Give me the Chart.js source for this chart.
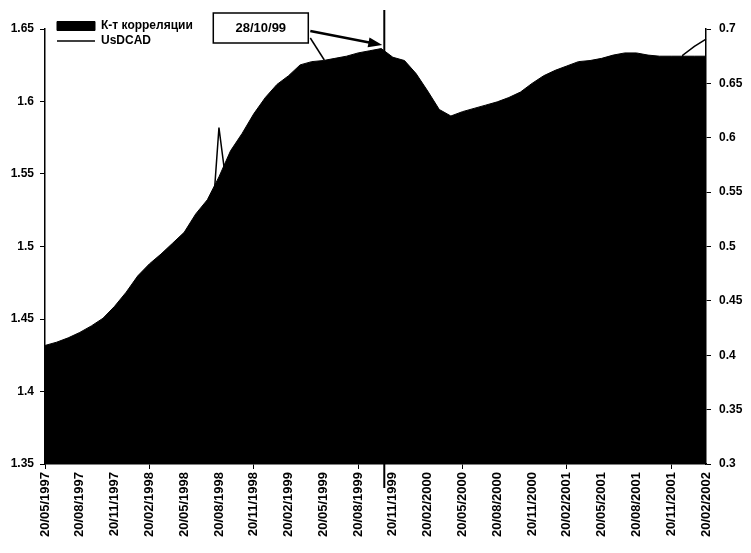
<!DOCTYPE html>
<html>
<head>
<meta charset="utf-8">
<script src="https://cdn.jsdelivr.net/npm/chart.js@4.4.1/dist/chart.umd.min.js"></script>
<style>
  body { margin: 0; background: #fff; }
  #chart { display: block; }
</style>
</head>
<body>
<canvas id="chart" width="751" height="553"></canvas>
<script>
// monthly dates, 20th of each month
const dates = [
  '20/05/1997', '20/06/1997', '20/07/1997', '20/08/1997', '20/09/1997', '20/10/1997', '20/11/1997', '20/12/1997',
  '20/01/1998', '20/02/1998', '20/03/1998', '20/04/1998', '20/05/1998', '20/06/1998', '20/07/1998', '20/08/1998',
  '20/09/1998', '20/10/1998', '20/11/1998', '20/12/1998',
  '20/01/1999', '20/02/1999', '20/03/1999', '20/04/1999', '20/05/1999', '20/06/1999', '20/07/1999', '20/08/1999',
  '20/09/1999', '20/10/1999', '20/11/1999', '20/12/1999',
  '20/01/2000', '20/02/2000', '20/03/2000', '20/04/2000', '20/05/2000', '20/06/2000', '20/07/2000', '20/08/2000',
  '20/09/2000', '20/10/2000', '20/11/2000', '20/12/2000',
  '20/01/2001', '20/02/2001', '20/03/2001', '20/04/2001', '20/05/2001', '20/06/2001', '20/07/2001', '20/08/2001',
  '20/09/2001', '20/10/2001', '20/11/2001', '20/12/2001',
  '20/01/2002', '20/02/2002'
];

// К-т корреляции (правая шкала)
const corrValues = [
  0.409, 0.412, 0.416, 0.421, 0.427, 0.434, 0.445, 0.458, 0.473, 0.484,
  0.493, 0.503, 0.513, 0.530, 0.543, 0.564, 0.588, 0.604, 0.622, 0.637,
  0.649, 0.657, 0.667, 0.670, 0.671, 0.673, 0.675, 0.678, 0.680, 0.682,
  0.674, 0.671, 0.659, 0.643, 0.626, 0.620, 0.624, 0.627, 0.630, 0.633,
  0.637, 0.642, 0.650, 0.657, 0.662, 0.666, 0.670, 0.671, 0.673, 0.676,
  0.678, 0.678, 0.676, 0.675, 0.675, 0.675, 0.675, 0.675
];

// UsDCAD (левая шкала)
const usdcadValues = [
  1.385, 1.39, 1.38, 1.39, 1.385, 1.39, 1.41, 1.43, 1.44, 1.43,
  1.42, 1.43, 1.45, 1.47, 1.47, 1.582, 1.52, 1.54, 1.54, 1.54,
  1.52, 1.50, 1.51, 1.47, 1.46, 1.47, 1.50, 1.49, 1.47, 1.48,
  1.47, 1.47, 1.45, 1.45, 1.46, 1.47, 1.48, 1.48, 1.48, 1.48,
  1.50, 1.51, 1.54, 1.52, 1.50, 1.54, 1.57, 1.54, 1.55, 1.52,
  1.54, 1.55, 1.58, 1.58, 1.59, 1.632, 1.638, 1.643
];

const markerText = '28/10/99';
const markerMonth = '20/10/1999';
const markerDay = 28;

const fontFamily = '"Liberation Sans", Arial, sans-serif';
Chart.defaults.font.family = fontFamily;
Chart.defaults.color = '#000';

// подпись 28/10/99 со стрелкой и вертикальной линией
const markerPlugin = {
  id: 'marker',
  afterDraw(chart) {
    const { ctx, chartArea, scales } = chart;
    const idx = dates.indexOf(markerMonth) + (markerDay - 20) / 31;
    const x = scales.x.getPixelForValue(idx);
    const top = chartArea.top;
    ctx.save();
    ctx.strokeStyle = '#000';
    ctx.fillStyle = '#000';

    ctx.lineWidth = 2;
    ctx.beginPath();
    ctx.moveTo(x, top - 19);
    ctx.lineTo(x, chartArea.bottom + 24);
    ctx.stroke();

    const bw = 95, bh = 30;
    const bx = x - 171, by = top - 16;
    ctx.fillStyle = '#fff';
    ctx.fillRect(bx, by, bw, bh);
    ctx.lineWidth = 1.5;
    ctx.strokeRect(bx, by, bw, bh);
    ctx.fillStyle = '#000';
    ctx.font = 'bold 13px ' + fontFamily;
    ctx.textAlign = 'center';
    ctx.textBaseline = 'middle';
    ctx.fillText(markerText, bx + bw / 2, by + bh / 2);

    // линия от рамки к графику
    ctx.lineWidth = 1.5;
    ctx.beginPath();
    ctx.moveTo(bx + bw + 2, by + bh - 5);
    ctx.lineTo(x - 60, top + 31);
    ctx.stroke();

    // стрелка
    const x0 = bx + bw + 2, y0 = by + 18;
    const x1 = x - 2, y1 = top + 16;
    const ang = Math.atan2(y1 - y0, x1 - x0);
    ctx.lineWidth = 2.5;
    ctx.beginPath();
    ctx.moveTo(x0, y0);
    ctx.lineTo(x1 - 12 * Math.cos(ang), y1 - 12 * Math.sin(ang));
    ctx.stroke();
    ctx.beginPath();
    ctx.moveTo(x1, y1);
    ctx.lineTo(x1 - 14 * Math.cos(ang) + 5 * Math.sin(ang), y1 - 14 * Math.sin(ang) - 5 * Math.cos(ang));
    ctx.lineTo(x1 - 14 * Math.cos(ang) - 5 * Math.sin(ang), y1 - 14 * Math.sin(ang) + 5 * Math.cos(ang));
    ctx.closePath();
    ctx.fill();
    ctx.restore();
  }
};

// легенда внутри области графика, чуть выше её верха
const legendShift = {
  id: 'legendShift',
  afterLayout(chart) {
    chart.legend.top = chart.chartArea.top - 12;
    chart.legend.left = chart.chartArea.left + 9;
  }
};

const tickFont = { size: 12, weight: 'bold' };

new Chart(document.getElementById('chart'), {
  type: 'line',
  data: {
    labels: dates,
    datasets: [
      {
        label: 'К-т корреляции',
        data: corrValues,
        yAxisID: 'y1',
        backgroundColor: '#000',
        borderColor: '#000',
        borderWidth: 1,
        fill: 'start',
        pointRadius: 0,
        pointStyle: 'rect',
        tension: 0
      },
      {
        label: 'UsDCAD',
        data: usdcadValues,
        yAxisID: 'y',
        backgroundColor: '#000',
        borderColor: '#000',
        borderWidth: 1.5,
        fill: false,
        pointRadius: 0,
        pointStyle: 'line',
        tension: 0
      }
    ]
  },
  options: {
    responsive: false,
    animation: false,
    layout: { padding: { top: 29, left: 0, right: 0, bottom: 0 } },
    plugins: {
      tooltip: { enabled: false },
      legend: {
        position: 'chartArea',
        align: 'start',
        labels: {
          usePointStyle: true,
          pointStyleWidth: 38,
          boxWidth: 38,
          boxHeight: 9,
          padding: 3,
          color: '#000',
          font: { size: 12, weight: 'bold' }
        }
      }
    },
    scales: {
      x: {
        grid: {
          drawOnChartArea: false,
          tickLength: 5,
          color: (c) => (c.index % 3 === 0 ? '#000' : 'rgba(0,0,0,0)')
        },
        border: { color: '#000', width: 1.5 },
        ticks: {
          autoSkip: false,
          maxRotation: 90,
          minRotation: 90,
          padding: 3,
          font: { size: 13, weight: 'bold' },
          callback: function(value, index) {
            return index % 3 === 0 ? dates[index] : null;
          }
        },
        afterFit(scale) { scale.height = 89; }
      },
      y: {
        position: 'left',
        min: 1.35,
        max: 1.65,
        grid: { drawOnChartArea: false, tickLength: 5, color: '#000' },
        border: { color: '#000', width: 1.5 },
        ticks: {
          stepSize: 0.05,
          padding: 6,
          font: tickFont,
          callback: (v) => +v.toFixed(2)
        },
        afterFit(scale) { scale.width = 45; }
      },
      y1: {
        position: 'right',
        min: 0.3,
        max: 0.7,
        grid: { drawOnChartArea: false, tickLength: 5, color: '#000' },
        border: { color: '#000', width: 1.5 },
        ticks: {
          stepSize: 0.05,
          padding: 8,
          font: tickFont,
          callback: (v) => +v.toFixed(2)
        },
        afterFit(scale) { scale.width = 45; }
      }
    }
  },
  plugins: [markerPlugin, legendShift]
});
</script>
</body>
</html>
